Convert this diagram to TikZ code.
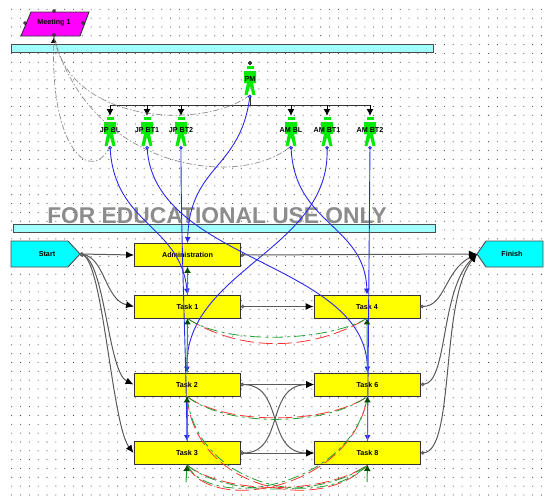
\documentclass[tikz,border=0pt]{standalone}
\usepackage{fontspec}
\setmainfont{Liberation Sans}
\usetikzlibrary{arrows.meta}

\definecolor{barcyan}{RGB}{160,255,255}
\definecolor{termcyan}{RGB}{0,255,255}
\definecolor{meetpink}{RGB}{255,0,255}
\definecolor{taskyellow}{RGB}{255,255,0}
\definecolor{mangreen}{RGB}{0,235,0}
\definecolor{resblue}{RGB}{40,40,240}
\definecolor{linkred}{RGB}{255,50,50}
\definecolor{linkgreen}{RGB}{30,160,50}

\tikzset{
	bar/.style={draw=black!70, line width=1pt, fill=barcyan},
	task/.style={draw=black!80, line width=0.9pt, fill=taskyellow, minimum width=106pt, minimum height=23pt, inner sep=0pt, font=\fontsize{7.2}{8}\selectfont\bfseries},
	term/.style={draw=black!70, line width=0.9pt, fill=termcyan},
	lab/.style={inner sep=0pt, font=\fontsize{7.2}{8}\selectfont\bfseries},
	flow/.style={draw=black!65, line width=1pt, {Circle[open,fill=white,length=3.5pt]}-{Latex[length=8pt,width=7pt,black]}},
	res/.style={draw=resblue, line width=0.9pt, {Circle[open,fill=white,length=3.5pt]}-{Latex[length=6pt,width=6pt]}},
	boss/.style={draw=black, line width=1pt, -{Latex[length=7pt,width=7pt]}},
	meet/.style={draw=black!45, line width=0.7pt, dash pattern=on 6pt off 2pt on 1.5pt off 2pt},
	redl/.style={draw=linkred, line width=0.8pt, dash pattern=on 14pt off 5pt},
	grnl/.style={draw=linkgreen, line width=0.8pt, dash pattern=on 11pt off 4pt on 3pt off 4pt},
	prec/.style={draw=linkgreen, line width=1pt, -{Latex[length=6pt,width=7pt,black!70!green]}},
	person/.pic={
		\fill[mangreen] (-3.5,-29) rectangle (3.5,-26);
		\fill[mangreen] (-6,-24) -- (6,-24) -- (6,-12) -- (3,-12) -- (5.5,0) -- (2.5,0) -- (0,-9) -- (-2.5,0) -- (-5.5,0) -- (-3,-12) -- (-6,-12) -- cycle;
	}
}

\begin{document}
\begin{tikzpicture}[x=1pt, y=-1pt]
	\useasboundingbox (0,0) rectangle (547,499);
	\foreach \i in {0,...,60} {\foreach \j in {0,...,55} {\fill[black!75] (11.7+8.83*\i,9.3+8.83*\j) circle (0.55pt);}}

	\node[lab, anchor=base, text=black!45, font=\fontsize{22.8}{24}\selectfont\bfseries] (edu) at (217,223) {FOR EDUCATIONAL USE ONLY};
	\path[bar] (11,44) rectangle (433,52);
	\path[bar] (13,224) rectangle (435,232);

	\path[draw=black!80, line width=0.9pt, fill=meetpink] (31,12) -- (89,12) -- (80,36) -- (21,36) -- cycle;
	\node[lab] (meeting) at (54,23) {Meeting 1};
	\coordinate (meetS) at (54,37);
	\foreach \p in {(54,11),(25,23),(83,23),(54,35)} {\draw[black, fill=white, line width=0.6pt] \p circle (1.4pt);}

	\path[term] (11,241) -- (68,241) -- (80,254) -- (68,267) -- (11,267) -- cycle;
	\node[lab] (start) at (47,254) {Start};
	\coordinate (startE) at (80,254);
	\path[term] (477,254) -- (486,241) -- (543,241) -- (543,267) -- (486,267) -- cycle;
	\node[lab] (finish) at (512,254) {Finish};
	\coordinate (finishW) at (477,254);

	\node[task] (admin) at (187.5,255) {Administration};
	\node[task] (t1) at (187.5,306.5) {Task 1};
	\node[task] (t4) at (367,306.5) {Task 4};
	\node[task] (t2) at (187,384.5) {Task 2};
	\node[task] (t6) at (367.5,384.5) {Task 6};
	\node[task] (t3) at (187,453) {Task 3};
	\node[task] (t8) at (367.5,453) {Task 8};
	\coordinate (t3end) at (186,482);
	\coordinate (t8end) at (367,482);

	\foreach \n/\x/\y/\t in {pm/250/95/PM, jpbl/110/146/JP BL, jpbt1/147/146/JP BT1, jpbt2/181/146/JP BT2, ambl/291/146/AM BL, ambt1/327/146/AM BT1, ambt2/370/146/AM BT2} {
		\pic at (\x,\y) {person};
		\node[lab] (\n) at (\x,\y-16) {\t};
		\coordinate (\n-foot) at (\x,\y);
		\coordinate (\n-bus) at (\x,105);
		\coordinate (\n-top) at (\x,\y-30);
	}
	\draw[black, fill=black!60, line width=0.6pt] (pm-top) ++(0,-2) circle (1.6pt);

	\draw[draw=black!80, line width=1pt] (jpbl-bus) -- (ambt2-bus);
	\draw[draw=black!80, line width=1pt] (pm-foot) -- (pm-bus);
	\foreach \n in {jpbl,jpbt1,jpbt2,ambl,ambt1,ambt2} {\draw[boss] (\n-bus) -- (\n-top);}

	\draw[meet, -{Latex[length=6pt,width=6pt,black]}] (jpbl-foot) .. controls (92,185) and (50,150) .. (meetS);
	\draw[meet] (ambl-foot) .. controls (240,190) and (90,170) .. (meetS);
	\draw[meet] (pm-foot) .. controls (205,130) and (70,125) .. (meetS);

	\draw[res] (pm-foot) .. controls (240,170) and (190,165) .. (admin.north);
	\draw[res] (jpbl-foot) .. controls (115,225) and (180,225) .. (t1.north);
	\draw[res] (jpbt1-foot) .. controls (155,262) and (365,262) .. (t6.north);
	\draw[res] (jpbt2-foot) .. controls (181,250) and (186,350) .. (t3.north);
	\draw[res] (ambl-foot) .. controls (295,225) and (365,225) .. (t4.north);
	\draw[res] (ambt1-foot) .. controls (330,250) and (185,270) .. (t2.north);
	\draw[res] (ambt2-foot) -- (t8.north);

	\draw[flow] (startE) -- (admin.west);
	\draw[flow] (startE) .. controls (105,258) and (105,300) .. (t1.west);
	\draw[flow] (startE) .. controls (105,262) and (108,372) .. (t2.west);
	\draw[flow] (startE) .. controls (103,262) and (112,425) .. (t3.west);
	\draw[flow] (admin.east) -- (finishW);
	\draw[flow] (t1.east) -- (t4.west);
	\draw[flow] (t4.east) .. controls (445,306) and (445,270) .. (finishW);
	\draw[flow] (t2.east) -- (t6.west);
	\draw[flow] (t2.east) .. controls (285,385) and (265,453) .. (t8.west);
	\draw[flow] (t3.east) .. controls (285,453) and (265,385) .. (t6.west);
	\draw[flow] (t3.east) -- (t8.west);
	\draw[flow] (t6.east) .. controls (448,382) and (440,290) .. (finishW);
	\draw[flow] (t8.east) .. controls (455,450) and (440,300) .. (finishW);

	\draw[redl] (t1.south) .. controls (240,352) and (310,352) .. (t4.south);
	\draw[grnl] (t1.south) .. controls (225,345) and (325,342) .. (t4.south);
	\draw[redl] (t2.south) .. controls (225,425) and (325,425) .. (t6.south);
	\draw[grnl] (t2.south) .. controls (225,427) and (325,427) .. (t6.south);
	\draw[redl] (t3.south) .. controls (225,495) and (325,495) .. (t8.south);
	\draw[grnl] (t3.south) .. controls (225,497) and (325,497) .. (t8.south);
	\draw[redl] (t2.south) .. controls (195,490) and (320,515) .. (t8.south);
	\draw[grnl] (t2.south) .. controls (197,487) and (320,512) .. (t8.south);
	\draw[redl] (t3.south) .. controls (210,515) and (352,490) .. (t6.south);
	\draw[grnl] (t3.south) .. controls (212,512) and (352,487) .. (t6.south);

	\draw[prec] (t1.north) -- (admin.south);
	\draw[prec] (t2.north) -- (t1.south);
	\draw[prec] (t3.north) -- (t2.south);
	\draw[prec] (t3end) -- (t3.south);
	\draw[prec] (t6.north) -- (t4.south);
	\draw[prec] (t8.north) -- (t6.south);
	\draw[prec] (t8end) -- (t8.south);
\end{tikzpicture}
\end{document}
